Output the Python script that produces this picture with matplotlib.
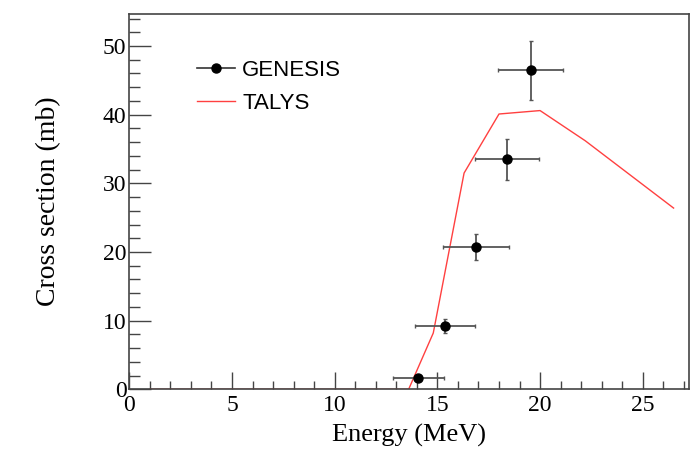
import matplotlib.pyplot as plt
from matplotlib.lines import Line2D
from matplotlib.ticker import MultipleLocator

# --------------------
# Data
# --------------------
genesis_energy = [14.07, 15.37, 16.88, 18.40, 19.54]
genesis_xs = [1.6, 9.2, 20.7, 33.5, 46.5]
genesis_energy_err = [1.25, 1.46, 1.60, 1.55, 1.60]
genesis_xs_err = [0.3, 1.0, 1.9, 2.95, 4.3]

talys_energy = [1.0, 13.6, 14.8, 16.3, 18.0, 20.0, 22.2, 26.5]
talys_xs = [0.0, 0.0, 8.2, 31.5, 40.1, 40.6, 36.2, 26.4]


def main():
    fig = plt.figure(figsize=(6.97, 4.53), dpi=100)
    ax = fig.add_axes([0.1855, 0.1406, 0.803, 0.8284])

    ax.plot(talys_energy, talys_xs, color="#ff4040", lw=1.0, zorder=2)
    ax.errorbar(genesis_energy, genesis_xs, xerr=genesis_energy_err, yerr=genesis_xs_err,
                fmt="o", color="black", ms=6.5, ecolor="#555555", elinewidth=1.3,
                capsize=1.5, capthick=1.0, zorder=3)

    ax.set_xlim(0, 27.25)
    ax.set_ylim(0, 54.66)

    ax.xaxis.set_major_locator(MultipleLocator(5))
    ax.xaxis.set_minor_locator(MultipleLocator(1))
    ax.yaxis.set_major_locator(MultipleLocator(10))
    ax.yaxis.set_minor_locator(MultipleLocator(2))

    ax.tick_params(which="both", direction="in", top=False, right=False, color="#444444")
    ax.tick_params(axis="x", which="major", length=12, width=1.0, pad=4)
    ax.tick_params(axis="x", which="minor", length=6, width=1.0)
    ax.tick_params(axis="y", which="major", length=16, width=1.0, pad=2)
    ax.tick_params(axis="y", which="minor", length=8, width=1.0)

    for lab in ax.get_xticklabels() + ax.get_yticklabels():
        lab.set_family("Liberation Serif")
        lab.set_fontsize(17)

    for sp in ax.spines.values():
        sp.set_color("#444444")
        sp.set_linewidth(1.2)

    ax.set_xlabel("Energy (MeV)", family="Liberation Serif", fontsize=19, labelpad=6)
    ax.set_ylabel("Cross section (mb)", family="Liberation Serif", fontsize=20, labelpad=30)

    # legend handles drawn like the ROOT legend (marker on a line, plain line)
    h_genesis = Line2D([], [], color="#333333", lw=1.2, marker="o", ms=6.5,
                       mfc="black", mec="black")
    h_talys = Line2D([], [], color="#ff4040", lw=1.0)
    ax.legend([h_genesis, h_talys], ["GENESIS", "TALYS"], loc="upper left",
              bbox_to_anchor=(0.094, 0.92), frameon=False,
              prop={"family": "Liberation Sans", "size": 16},
              handlelength=1.67, handletextpad=0.35, labelspacing=0.55,
              borderpad=0.2)

    fig.savefig("out.png", dpi=100)
    plt.close(fig)


if __name__ == "__main__":
    main()
